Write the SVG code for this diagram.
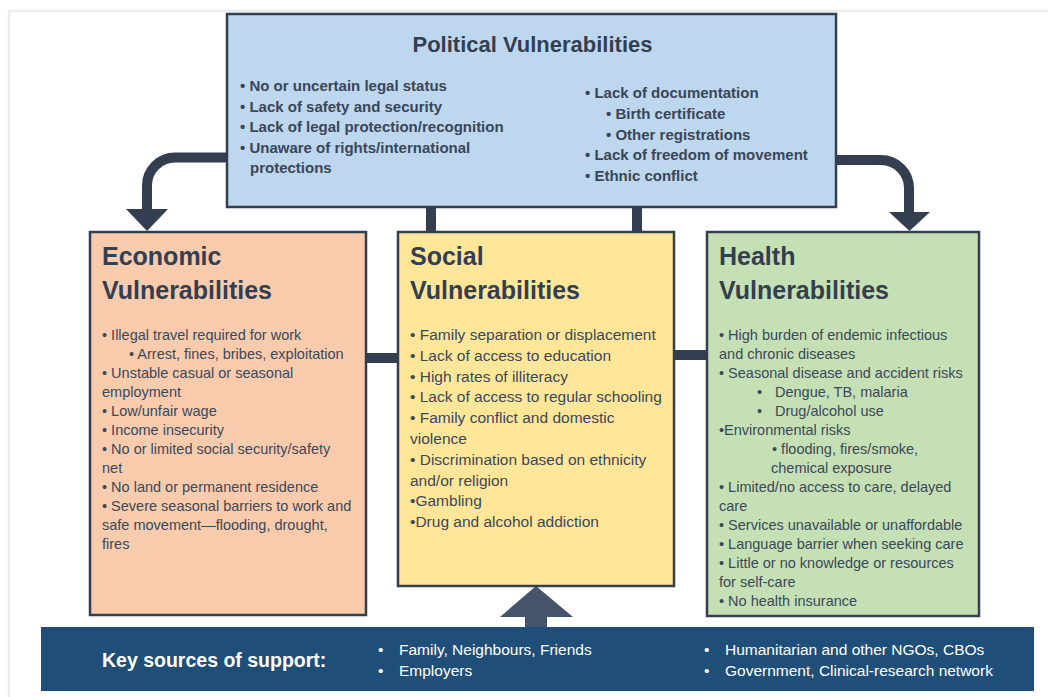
<svg xmlns="http://www.w3.org/2000/svg" width="1048" height="697" viewBox="0 0 1048 697">
<defs>
<style>
.box{stroke:#333f50;stroke-width:2.5}
.conn{fill:none;stroke:#333f50;stroke-width:10}
.head{fill:#333f50}
.ttl{font-family:"Liberation Sans",Arial,sans-serif;font-weight:bold;fill:#333f50}
.pb{font-family:"Liberation Sans",Arial,sans-serif;font-weight:bold;font-size:15px;fill:#3a4657}
.body{font-family:"Liberation Sans",Arial,sans-serif;font-size:14.5px;fill:#3b4859}
.sbody{font-family:"Liberation Sans",Arial,sans-serif;font-size:15.5px;fill:#3b4859}
.sup{font-family:"Liberation Sans",Arial,sans-serif;font-size:15.5px;fill:#ffffff}
</style>
</defs>
<rect x="0" y="0" width="1048" height="697" fill="#ffffff"/>
<path d="M9,697 V11 H1048" fill="none" stroke="#ececec" stroke-width="2.5"/>

<g id="connectors">
<path class="conn" d="M228,157.5 H175 A28,28 0 0 0 147,185.5 V211"/>
<polygon class="head" points="126,209 168,209 147,231"/>
<path class="conn" d="M835,160 H881 A28,28 0 0 1 909,188 V214"/>
<polygon class="head" points="889,212 930,212 909.5,231"/>
<line class="conn" x1="431" y1="207" x2="431" y2="232"/>
<line class="conn" x1="637" y1="207" x2="637" y2="232"/>
<line class="conn" x1="366" y1="358" x2="398" y2="358" stroke-width="9"/>
<line class="conn" x1="674" y1="355" x2="707" y2="355" stroke-width="9"/>
<polygon fill="#44546a" points="536,586 500,617 573,617"/>
<rect x="525" y="615" width="22" height="13" fill="#44546a"/>
</g>

<g id="political">
<rect class="box" x="227" y="14" width="609" height="193" fill="#bdd7ee"/>
<text class="ttl" x="532.5" y="52" font-size="22" text-anchor="middle">Political Vulnerabilities</text>
<text class="pb" x="240" y="91">• No or uncertain legal status</text>
<text class="pb" x="240" y="111.5">• Lack of safety and security</text>
<text class="pb" x="240" y="132">• Lack of legal protection/recognition</text>
<text class="pb" x="240" y="152.5">• Unaware of rights/international</text>
<text class="pb" x="250" y="173">protections</text>
<text class="pb" x="585" y="98">• Lack of documentation</text>
<text class="pb" x="606" y="118.75">• Birth certificate</text>
<text class="pb" x="606" y="139.5">• Other registrations</text>
<text class="pb" x="585" y="160.25">• Lack of freedom of movement</text>
<text class="pb" x="585" y="181">• Ethnic conflict</text>
</g>

<g id="economic">
<rect class="box" x="90" y="232" width="276" height="383" fill="#f8cbad"/>
<text class="ttl" x="102" y="265" font-size="25">Economic</text>
<text class="ttl" x="102" y="299" font-size="25">Vulnerabilities</text>
<text class="body" x="102" y="340">• Illegal travel required for work</text>
<text class="body" x="129" y="359">• Arrest, fines, bribes, exploitation</text>
<text class="body" x="102" y="378">• Unstable casual or seasonal</text>
<text class="body" x="102" y="397">employment</text>
<text class="body" x="102" y="416">• Low/unfair wage</text>
<text class="body" x="102" y="435">• Income insecurity</text>
<text class="body" x="102" y="454">• No or limited social security/safety</text>
<text class="body" x="102" y="473">net</text>
<text class="body" x="102" y="492">• No land or permanent residence</text>
<text class="body" x="102" y="511">• Severe seasonal barriers to work and</text>
<text class="body" x="102" y="530">safe movement—flooding, drought,</text>
<text class="body" x="102" y="549">fires</text>
</g>

<g id="social">
<rect class="box" x="398" y="232" width="276" height="354" fill="#ffe699"/>
<text class="ttl" x="410" y="265" font-size="25">Social</text>
<text class="ttl" x="410" y="299" font-size="25">Vulnerabilities</text>
<text class="sbody" x="410" y="340">• Family separation or displacement</text>
<text class="sbody" x="410" y="360.8">• Lack of access to education</text>
<text class="sbody" x="410" y="381.6">• High rates of illiteracy</text>
<text class="sbody" x="410" y="402.4">• Lack of access to regular schooling</text>
<text class="sbody" x="410" y="423.2">• Family conflict and domestic</text>
<text class="sbody" x="410" y="444">violence</text>
<text class="sbody" x="410" y="464.8">• Discrimination based on ethnicity</text>
<text class="sbody" x="410" y="485.6">and/or religion</text>
<text class="sbody" x="410" y="506.4">•Gambling</text>
<text class="sbody" x="410" y="527.2">•Drug and alcohol addiction</text>
</g>

<g id="health">
<rect class="box" x="707" y="232" width="272" height="384" fill="#c5e0b4"/>
<text class="ttl" x="719" y="265" font-size="25">Health</text>
<text class="ttl" x="719" y="299" font-size="25">Vulnerabilities</text>
<text class="body" x="719" y="340">• High burden of endemic infectious</text>
<text class="body" x="719" y="359">and chronic diseases</text>
<text class="body" x="719" y="378">• Seasonal disease and accident risks</text>
<text class="body" y="397"><tspan x="757">•</tspan><tspan x="775">Dengue, TB, malaria</tspan></text>
<text class="body" y="416"><tspan x="757">•</tspan><tspan x="775">Drug/alcohol use</tspan></text>
<text class="body" x="719" y="435">•Environmental risks</text>
<text class="body" x="772" y="454">• flooding, fires/smoke,</text>
<text class="body" x="771" y="473">chemical exposure</text>
<text class="body" x="719" y="492">• Limited/no access to care, delayed</text>
<text class="body" x="719" y="511">care</text>
<text class="body" x="719" y="530">• Services unavailable or unaffordable</text>
<text class="body" x="719" y="549">• Language barrier when seeking care</text>
<text class="body" x="719" y="568">• Little or no knowledge or resources</text>
<text class="body" x="719" y="587">for self-care</text>
<text class="body" x="719" y="606">• No health insurance</text>
</g>

<g id="support">
<rect x="41" y="627" width="993" height="64" fill="#1f4e79"/>
<text class="ttl" x="102" y="667" font-size="19.5" style="fill:#ffffff">Key sources of support:</text>
<text class="sup" y="655"><tspan x="378">•</tspan><tspan x="399">Family, Neighbours, Friends</tspan></text>
<text class="sup" y="676"><tspan x="378">•</tspan><tspan x="399">Employers</tspan></text>
<text class="sup" y="655"><tspan x="704">•</tspan><tspan x="725">Humanitarian and other NGOs, CBOs</tspan></text>
<text class="sup" y="676"><tspan x="704">•</tspan><tspan x="725">Government, Clinical-research network</tspan></text>
</g>
</svg>
